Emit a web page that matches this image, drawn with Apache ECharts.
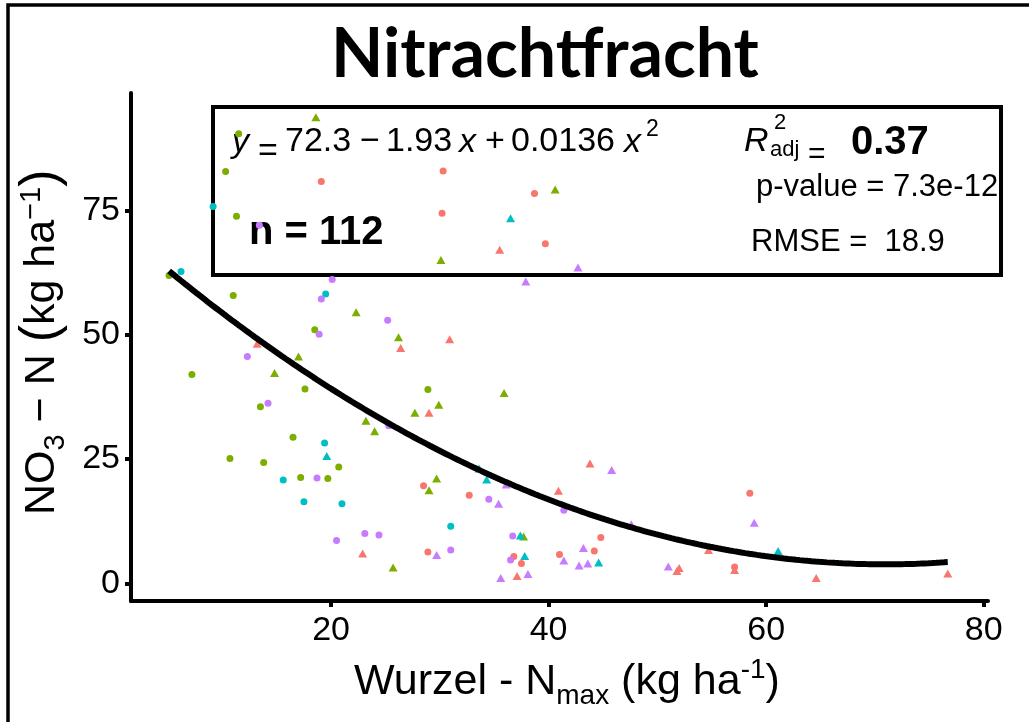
<!DOCTYPE html>
<html>
<head>
<meta charset="utf-8">
<script src="https://cdn.jsdelivr.net/npm/echarts@6/dist/echarts.min.js"></script>
<style>
  html, body { margin: 0; padding: 0; background: #fff; }
  #chart { width: 1029px; height: 722px; }
</style>
</head>
<body>
<div id="chart"></div>
<script>
// ---- Observations: [Wurzel-Nmax, NO3-N] in kg/ha, grouped by colour and shape ----
const redCircles = [[19.1,80.8],[30.3,82.9],[30.2,74.4],[38.7,78.4],[39.7,68.3],[28.5,19.6],[28.9,6.3],[32.7,17.7],[44.8,9.2],[44.2,6.5],[36.8,5.4],[37.5,4.0],[41.0,5.8],[58.5,18.1],[57.1,3.3]];
const redTriangles = [[35.5,67.1],[26.4,47.3],[13.2,48.2],[29.0,34.3],[22.9,6.0],[43.8,24.1],[40.9,18.6],[37.1,1.5],[54.7,6.7],[52.0,3.1],[51.8,2.5],[57.1,2.7],[64.6,1.1],[76.7,2.0],[30.9,49.1]];
const greenCircles = [[11.5,90.4],[10.3,82.8],[11.3,73.8],[5.1,61.9],[11.0,57.9],[18.5,51.0],[7.2,42.0],[17.6,39.1],[28.9,39.0],[13.5,35.5],[16.5,29.4],[10.7,25.1],[13.8,24.3],[20.7,23.4],[17.2,21.3],[19.7,21.1]];
const greenTriangles = [[18.6,93.7],[40.6,79.2],[30.1,65.0],[22.3,54.5],[26.2,49.5],[17.0,45.6],[14.8,42.3],[27.7,34.3],[23.2,32.7],[24.0,30.6],[29.0,18.7],[25.7,3.2],[35.9,38.3],[29.9,35.9],[29.7,21.1],[37.7,9.4]];
const cyanCircles = [[9.15,75.8],[6.2,62.7],[19.5,58.2],[19.4,28.2],[15.6,20.8],[17.5,16.4],[21.0,16.0],[31.0,11.5]];
const cyanTriangles = [[36.5,73.4],[19.6,25.6],[33.6,23.1],[34.3,20.9],[37.4,9.6],[37.8,5.5],[44.6,4.2],[61.1,6.5]];
const purpleCircles = [[13.4,72.0],[20.1,61.1],[19.1,57.2],[25.2,52.9],[18.9,50.1],[12.3,45.6],[14.2,36.2],[25.3,31.7],[18.7,21.2],[23.1,10.0],[24.4,9.7],[20.5,8.6],[34.5,16.9],[41.4,14.7],[36.7,9.5],[31.0,6.7],[36.5,4.7]];
const purpleTriangles = [[42.7,63.5],[37.9,60.7],[45.8,22.8],[36.1,19.9],[35.4,16.0],[47.6,11.9],[29.7,5.7],[43.2,7.1],[41.4,4.6],[42.8,3.6],[43.6,4.0],[35.6,1.1],[38.1,1.9],[51.0,3.4],[58.9,12.2]];

// Quadratic fit y = b0 + b1*x + b2*x^2 (coefficients as printed in the annotation)
const fitCoef = [72.3, -1.93, 0.0136];
const fitStats = { r2adj: '0.37', pValue: '7.3e-12', rmse: '18.9', n: '112' };

// Axis ticks
const xTicks = [20, 40, 60, 80];
const yTicks = [0, 25, 50, 75];

const RED = '#F8766D', GREEN = '#7CAE00', CYAN = '#00BFC4', PURPLE = '#C77CFF';
const SANS = '"Liberation Sans", Arial, Helvetica, sans-serif';

// fitted curve across the observed x range
const allPts = [].concat(redCircles, redTriangles, greenCircles, greenTriangles, cyanCircles, cyanTriangles, purpleCircles, purpleTriangles);
const xLo = Math.min(...allPts.map(p => p[0]));
const xHi = Math.max(...allPts.map(p => p[0]));
const curve = [];
for (let i = 0; i <= 200; i++) {
  const x = xLo + (xHi - xLo) * i / 200;
  curve.push([x, fitCoef[0] + fitCoef[1] * x + fitCoef[2] * x * x]);
}

// ---- text helpers ----
const mctx = document.createElement('canvas').getContext('2d');
function fontStr(size, kind, family) {
  return (kind.includes('i') ? 'italic ' : '') + (kind.includes('b') ? 'bold ' : '') + size + 'px ' + family;
}
function tw(t, size, kind, family) { mctx.font = fontStr(size, kind, family || SANS); return mctx.measureText(t).width; }
function txt(t, x, baseline, size, kind, extra) {
  kind = kind || '';
  return Object.assign({
    type: 'text', x: x, y: baseline - 0.35 * size, z: 5, silent: true,
    style: { text: t, fontSize: size, fontFamily: SANS, fontStyle: kind.includes('i') ? 'italic' : 'normal',
             fontWeight: kind.includes('b') ? 'bold' : 'normal', fill: '#000', align: 'left', verticalAlign: 'middle' }
  }, extra || {});
}
// lay out a run of pieces [text, size, kind, dy] left to right from (x0, baseline)
function flow(pieces, x0, baseline) {
  let x = x0; const out = [];
  pieces.forEach(p => {
    out.push(txt(p[0], x, baseline + (p[3] || 0), p[1], p[2]));
    x += tw(p[0], p[1], p[2] || '');
  });
  return out;
}

const eqPieces = [
  txt('y', 232, 154, 34, 'i'),
  txt('=', 258, 164, 34),
  txt('72.3', 285, 154, 34),
  txt('\u2212', 360, 154, 34),
  txt('1.93', 386, 154, 34),
  txt('x', 459, 154, 34, 'i'),
  txt('+', 485, 154, 34),
  txt('0.0136', 511, 154, 34),
  txt('x', 624, 154, 34, 'i'),
  txt('2', 646, 138, 23)
];

const statPieces = [
  txt('R', 744, 153, 34, 'i'),
  txt('2', 774, 131, 22),
  txt('adj', 770, 158, 22),
  txt('=', 808, 165, 30),
  txt(fitStats.r2adj, 851, 157, 40, 'b'),
  txt('p-value = ' + fitStats.pValue, 756, 198, 31),
  txt('RMSE =  ' + fitStats.rmse, 751, 253, 31),
  txt('n = ' + fitStats.n, 249, 247, 40, 'b')
];

const xTitle = flow([
  ['Wurzel - N', 43, ''],
  ['max', 28, '', 9],
  [' (kg ha', 43, ''],
  ['-1', 28, '', -17],
  [')', 43, '']
], 354, 697);

// y title: laid out horizontally in a group rotated to read bottom-to-top
const yTitleChildren = flow([
  ['NO', 43, ''],
  ['3', 29, '', 9],
  [' \u2212 N ', 43, ''],
  ['(', 52, '', 3],
  ['kg ha', 43, ''],
  ['\u22121', 29, '', -15],
  [')', 52, '', 3]
], 0, 0);

const chart = echarts.init(document.getElementById('chart'), null, { renderer: 'canvas' });
const scatterSeries = (data, color, shape) => ({
  type: 'scatter', data: data, symbol: shape,
  symbolSize: shape === 'triangle' ? [9, 8] : 7,
  itemStyle: { color: color, opacity: 1 }, z: 3, silent: true
});

chart.setOption({
  animation: false,
  backgroundColor: '#fff',
  grid: { left: 131, right: 41, top: 93, bottom: 121, containLabel: false },
  xAxis: {
    type: 'value', min: 1.6, max: 80.4,
    axisLine: { show: true, onZero: false, lineStyle: { color: '#000', width: 4 } },
    axisTick: { show: true, length: 6, lineStyle: { color: '#000', width: 4 }, customValues: xTicks },
    axisLabel: { customValues: xTicks, fontSize: 34, color: '#000', fontFamily: SANS, margin: 13 },
    splitLine: { show: false }
  },
  yAxis: {
    type: 'value', min: -3.55, max: 98.6,
    axisLine: { show: true, onZero: false, lineStyle: { color: '#000', width: 4 } },
    axisTick: { show: true, length: 6, lineStyle: { color: '#000', width: 4 }, customValues: yTicks },
    axisLabel: { customValues: yTicks, fontSize: 34, color: '#000', fontFamily: SANS, margin: 11, padding: [0, 0, 6, 0] },
    splitLine: { show: false }
  },
  graphic: [
    // outer frame
    { type: 'rect', shape: { x: 8, y: 5, width: 1200, height: 900 }, style: { fill: 'none', stroke: '#000', lineWidth: 3.5 }, z: 0, silent: true },
    // title
    { type: 'text', x: 545, y: 80 - 0.36 * 68, z: 5, silent: true,
      style: { text: 'Nitrachtfracht', fontSize: 68, fontWeight: 'bold', fontFamily: 'Lato, "Open Sans", sans-serif', fill: '#000', align: 'center', verticalAlign: 'middle' } },
    // statistics box
    { type: 'rect', shape: { x: 213, y: 107, width: 788, height: 168 }, style: { fill: '#fff', stroke: '#000', lineWidth: 4 }, z: 1, silent: true }
  ].concat(eqPieces.map(e => Object.assign(e, { z: 1 })),
           statPieces.map(e => Object.assign(e, { z: 1 })),
           xTitle,
           [{ type: 'group', x: 57, y: 515, rotation: Math.PI / 2, children: yTitleChildren, silent: true }]),
  series: [
    scatterSeries(redCircles, RED, 'circle'),
    scatterSeries(redTriangles, RED, 'triangle'),
    scatterSeries(greenCircles, GREEN, 'circle'),
    scatterSeries(greenTriangles, GREEN, 'triangle'),
    scatterSeries(cyanCircles, CYAN, 'circle'),
    scatterSeries(cyanTriangles, CYAN, 'triangle'),
    scatterSeries(purpleCircles, PURPLE, 'circle'),
    scatterSeries(purpleTriangles, PURPLE, 'triangle'),
    { type: 'line', data: curve, symbol: 'none', showSymbol: false, smooth: false,
      lineStyle: { color: '#000', width: 6 }, z: 4, silent: true }
  ]
});
</script>
</body>
</html>
